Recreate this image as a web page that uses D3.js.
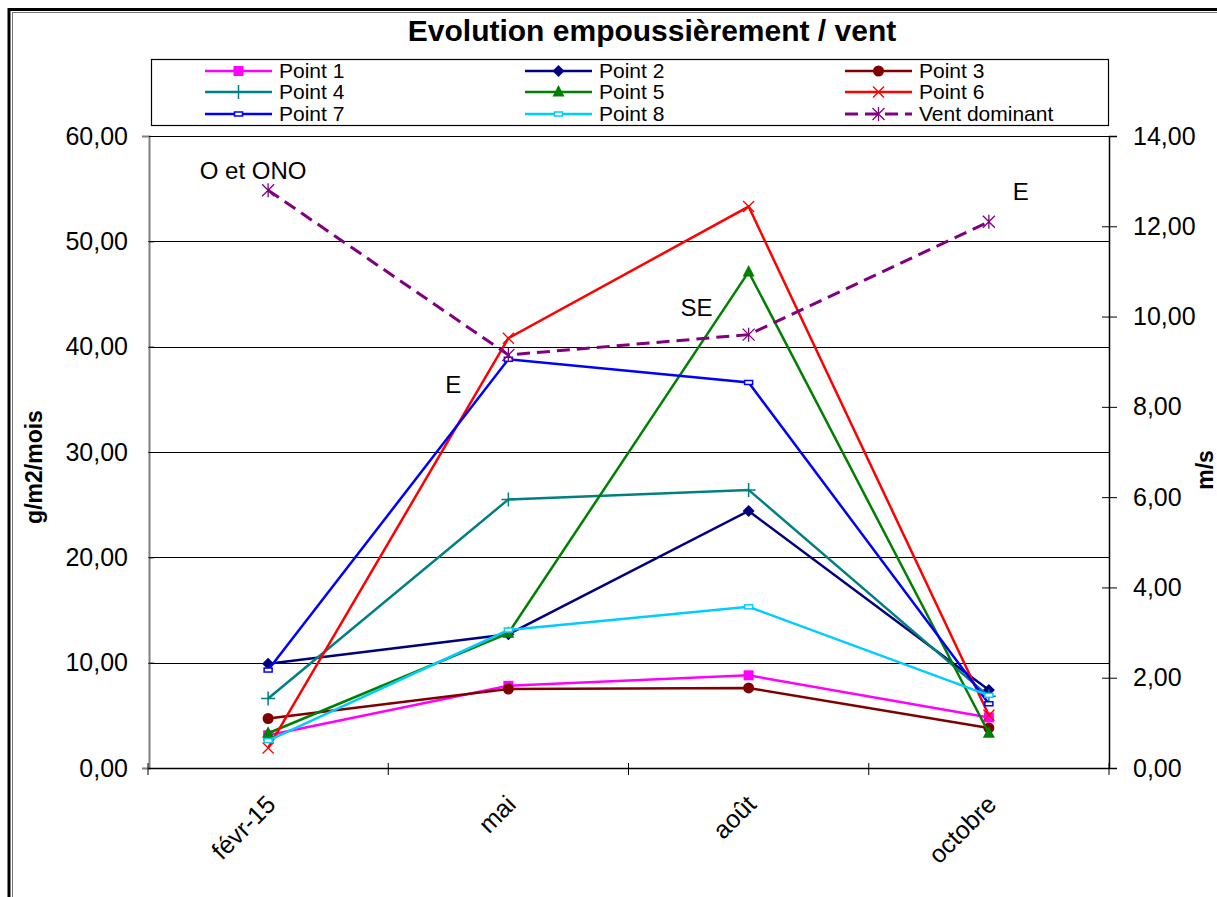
<!DOCTYPE html>
<html>
<head>
<meta charset="utf-8">
<script src="https://cdn.jsdelivr.net/npm/d3@7"></script>
<style>
  body { margin: 0; background: #fff; }
  svg { display: block; font-family: "Liberation Sans", Arial, sans-serif; }
</style>
</head>
<body>
<div id="chart"></div>
<script>
// Data
const categories = ["févr-15", "mai", "août", "octobre"];
const point1 = [3.1, 7.8, 8.8, 4.8];
const point2 = [9.9, 12.7, 24.4, 7.4];
const point3 = [4.7, 7.5, 7.6, 3.8];
const point4 = [6.6, 25.5, 26.4, 6.8];
const point5 = [3.3, 12.8, 47.1, 3.3];
const point6 = [1.9, 40.8, 53.3, 5.0];
const point7 = [9.3, 38.8, 36.6, 6.1];
const point8 = [2.6, 13.1, 15.3, 6.9];
const ventDominant = [12.8, 9.15, 9.6, 12.1];
const ventLabels = ["O et ONO", "E", "SE", "E"];
const leftTicks = [0, 10, 20, 30, 40, 50, 60];
const rightTicks = [0, 2, 4, 6, 8, 10, 12, 14];

const width = 1217, height = 897;
const plot = { left: 148, right: 1109, top: 136, bottom: 768 };

const series = [
  { name: "Point 1", values: point1, color: "#ff00ff", marker: "square" },
  { name: "Point 2", values: point2, color: "#000080", marker: "diamond" },
  { name: "Point 3", values: point3, color: "#800000", marker: "circle" },
  { name: "Point 4", values: point4, color: "#008080", marker: "plus" },
  { name: "Point 5", values: point5, color: "#008000", marker: "triangle" },
  { name: "Point 6", values: point6, color: "#ff0000", marker: "cross" },
  { name: "Point 7", values: point7, color: "#0000ff", marker: "dash" },
  { name: "Point 8", values: point8, color: "#00ccff", marker: "dash" }
];
const vent = { name: "Vent dominant", values: ventDominant, color: "#800080", marker: "star" };

const svg = d3.select("#chart").append("svg")
  .attr("width", width)
  .attr("height", height);

// outer chart border (double line, top and left)
const border = svg.append("g");
border.append("line").attr("x1", 9).attr("x2", width).attr("y1", 9.5).attr("y2", 9.5)
  .attr("stroke", "#000").attr("stroke-width", 3);
border.append("line").attr("x1", 12).attr("x2", width).attr("y1", 12.5).attr("y2", 12.5)
  .attr("stroke", "#777").attr("stroke-width", 1);
border.append("line").attr("x1", 9).attr("x2", 9).attr("y1", 8).attr("y2", height)
  .attr("stroke", "#000").attr("stroke-width", 3);
border.append("line").attr("x1", 12.5).attr("x2", 12.5).attr("y1", 12).attr("y2", height)
  .attr("stroke", "#777").attr("stroke-width", 1);

// title
svg.append("text")
  .attr("x", 652).attr("y", 41)
  .attr("text-anchor", "middle")
  .style("font-size", "30px").style("font-weight", "bold")
  .text("Evolution empoussièrement / vent");

// scales
const x = d3.scaleBand().domain(categories).range([plot.left, plot.right]);
const cx = d => x(d) + x.bandwidth() / 2;
const yL = d3.scaleLinear().domain([0, 60]).range([plot.bottom, plot.top]);
const yR = d3.scaleLinear().domain([0, 14]).range([plot.bottom, plot.top]);
const fmt = v => d3.format(".2f")(v).replace(".", ",");

// gridlines
svg.append("g").selectAll("line")
  .data(leftTicks.filter(t => t > 0))
  .join("line")
  .attr("x1", plot.left).attr("x2", plot.right)
  .attr("y1", d => Math.round(yL(d)) + 0.5).attr("y2", d => Math.round(yL(d)) + 0.5)
  .attr("stroke", "#000").attr("stroke-width", 1);

// left axis
const gL = svg.append("g")
  .attr("transform", `translate(${plot.left + 1},0)`)
  .call(d3.axisLeft(yL).tickValues(leftTicks).tickFormat(fmt).tickSize(7).tickPadding(14));
gL.select(".domain").attr("stroke", "#808080").attr("stroke-width", 2);
gL.selectAll(".tick line").attr("x2", 5).attr("stroke", "#000");
gL.selectAll(".tick text").style("font-size", "25px").attr("fill", "#000");

// right axis
const gR = svg.append("g")
  .attr("transform", `translate(${plot.right},0)`)
  .call(d3.axisRight(yR).tickValues(rightTicks).tickFormat(fmt).tickSize(8).tickPadding(16));
gR.select(".domain").attr("stroke", "#000").attr("stroke-width", 1.5);
gR.selectAll(".tick line").attr("x1", -7).attr("stroke", "#000");
gR.selectAll(".tick text").style("font-size", "25px").attr("fill", "#000");

// bottom axis
const gX = svg.append("g")
  .attr("transform", `translate(0,${plot.bottom})`)
  .call(d3.axisBottom(x).tickSize(0).tickFormat(""));
gX.select(".domain").attr("stroke", "#000").attr("stroke-width", 1.5);
gX.append("g").selectAll("line")
  .data(categories.map(c => x(c)).concat([plot.right]))
  .join("line")
  .attr("x1", d => d).attr("x2", d => d)
  .attr("y1", -5).attr("y2", 7)
  .attr("stroke", "#000");
gX.append("g").selectAll("text")
  .data(categories)
  .join("text")
  .attr("transform", d => `translate(${cx(d) + 9},${38}) rotate(-45)`)
  .attr("text-anchor", "end")
  .attr("fill", "#000")
  .style("font-size", "25px")
  .text(d => d);

// axis titles
svg.append("text")
  .attr("transform", `translate(42,467) rotate(-90)`)
  .attr("text-anchor", "middle")
  .style("font-size", "23px").style("font-weight", "bold")
  .text("g/m2/mois");
svg.append("text")
  .attr("transform", `translate(1213,470) rotate(-90)`)
  .attr("text-anchor", "middle")
  .style("font-size", "23px").style("font-weight", "bold")
  .text("m/s");

// marker drawing
function drawMarker(g, type, color) {
  switch (type) {
    case "square":
      g.append("rect").attr("x", -5).attr("y", -5).attr("width", 10).attr("height", 10).attr("fill", color);
      break;
    case "diamond":
      g.append("path").attr("d", "M0,-6L6,0L0,6L-6,0Z").attr("fill", color);
      break;
    case "circle":
      g.append("circle").attr("r", 5.5).attr("fill", color);
      break;
    case "plus":
      g.append("path").attr("d", "M-7,0H7M0,-7V7").attr("stroke", color).attr("stroke-width", 1.5);
      break;
    case "triangle":
      g.append("path").attr("d", "M0,-7L6,4.5L-6,4.5Z").attr("fill", color);
      break;
    case "cross":
      g.append("path").attr("d", "M-5.5,-5.5L5.5,5.5M5.5,-5.5L-5.5,5.5").attr("stroke", color).attr("stroke-width", 1.3);
      break;
    case "dash":
      g.append("rect").attr("x", -4).attr("y", -2).attr("width", 8).attr("height", 4)
        .attr("fill", "#fff").attr("stroke", color).attr("stroke-width", 1.5);
      break;
    case "star":
      g.append("path").attr("d", "M-6,-6L6,6M6,-6L-6,6M0,-7V7").attr("stroke", color).attr("stroke-width", 1.3);
      break;
  }
}

const line = d3.line().x((d, i) => cx(categories[i]));

// primary series
series.forEach(s => {
  const g = svg.append("g");
  g.append("path")
    .attr("d", line.y(d => yL(d))(s.values))
    .attr("fill", "none")
    .attr("stroke", s.color)
    .attr("stroke-width", 2.5);
  g.selectAll("g.m")
    .data(s.values)
    .join("g")
    .attr("class", "m")
    .attr("transform", (d, i) => `translate(${cx(categories[i])},${yL(d)})`)
    .each(function () { drawMarker(d3.select(this), s.marker, s.color); });
});

// secondary series: dominant wind
const gV = svg.append("g");
gV.append("path")
  .attr("d", line.y(d => yR(d))(vent.values))
  .attr("fill", "none")
  .attr("stroke", vent.color)
  .attr("stroke-width", 3)
  .attr("stroke-dasharray", "13,7");
gV.selectAll("g.m")
  .data(vent.values)
  .join("g")
  .attr("class", "m")
  .attr("transform", (d, i) => `translate(${cx(categories[i])},${yR(d)})`)
  .each(function () { drawMarker(d3.select(this), vent.marker, vent.color); });

// wind direction labels
const labelOffsets = [[-15, -11], [-55, 38], [-52, -19], [32, -22]];
gV.selectAll("text")
  .data(ventLabels)
  .join("text")
  .attr("x", (d, i) => cx(categories[i]) + labelOffsets[i][0])
  .attr("y", (d, i) => yR(vent.values[i]) + labelOffsets[i][1])
  .attr("text-anchor", "middle")
  .style("font-size", "24px")
  .text(d => d);

// legend
const legend = svg.append("g");
legend.append("rect")
  .attr("x", 151.5).attr("y", 59.5).attr("width", 957).attr("height", 66)
  .attr("fill", "#fff").attr("stroke", "#000").attr("stroke-width", 1.2);
const legendCols = [205, 525, 845];
const legendRows = [71, 92, 114];
series.concat([vent]).forEach((s, i) => {
  const lx = legendCols[i % 3], ly = legendRows[Math.floor(i / 3)];
  const item = legend.append("g").attr("transform", `translate(${lx},${ly})`);
  item.append("line")
    .attr("x1", 0).attr("x2", 67)
    .attr("stroke", s.color)
    .attr("stroke-width", s === vent ? 3 : 2.5)
    .attr("stroke-dasharray", s === vent ? "13,7" : null);
  drawMarker(item.append("g").attr("transform", "translate(33.5,0)"), s.marker, s.color);
  item.append("text")
    .attr("x", 74).attr("y", 7)
    .style("font-size", "21px")
    .text(s.name);
});
</script>
</body>
</html>
